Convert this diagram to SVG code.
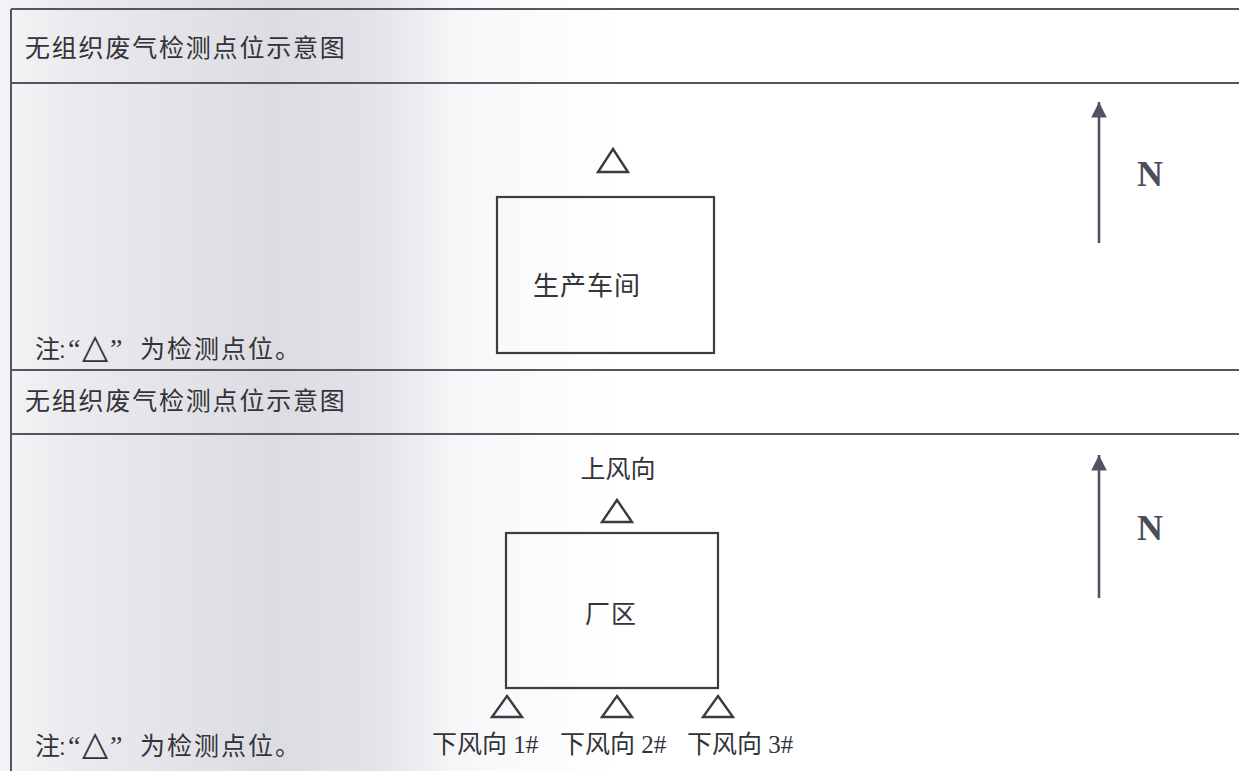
<svg xmlns="http://www.w3.org/2000/svg" width="1239" height="771" viewBox="0 0 1239 771">
  <defs>
    <linearGradient id="scan" x1="0" y1="0" x2="1239" y2="0" gradientUnits="userSpaceOnUse">
      <stop offset="0" stop-color="#f4f4f6"/>
      <stop offset="0.08" stop-color="#e8e8ed"/>
      <stop offset="0.22" stop-color="#dcdce3"/>
      <stop offset="0.3" stop-color="#e2e2e8"/>
      <stop offset="0.37" stop-color="#f7f7f9"/>
      <stop offset="0.5" stop-color="#ffffff"/>
      <stop offset="1" stop-color="#ffffff"/>
    </linearGradient>
    <marker id="head" viewBox="0 0 10 10" refX="10" refY="5" markerWidth="6" markerHeight="6" markerUnits="strokeWidth" orient="auto">
      <path d="M0,0 L10,5 L0,10 Z" fill="#4f5362"/>
    </marker>
    <style>
      .frame { stroke: #55555f; stroke-width: 2; fill: none; }
      .box { stroke: #3c3c44; stroke-width: 2.2; fill: none; }
      .tri { stroke: #3a3a42; stroke-width: 2.4; fill: none; stroke-linejoin: miter; }
      .north { stroke: #4f5362; stroke-width: 2.6; fill: none; }
      .title { font-family: "Noto Sans CJK SC", sans-serif; font-size: 25px; letter-spacing: 1.8px; fill: #333338; }
      .lbl { font-family: "Liberation Serif", "Noto Sans CJK SC", serif; font-size: 25px; fill: #333338; }
      .note { font-family: "Noto Sans CJK SC", sans-serif; font-size: 25px; fill: #333338; }
      .c { font-family: "Liberation Sans", sans-serif; font-size: 24px; }
      .q { font-family: "Liberation Serif", serif; font-size: 28px; }
      .sym { font-family: "DejaVu Sans", sans-serif; font-size: 34px; }
      .n { font-family: "Liberation Serif", serif; font-weight: bold; font-size: 36px; fill: #4a4d5a; }
    </style>
  </defs>

  <rect x="0" y="0" width="1239" height="771" fill="url(#scan)"/>

  <g id="frame">
    <line class="frame" x1="11" y1="9" x2="11" y2="771"/>
    <line class="frame" x1="11" y1="9" x2="1239" y2="9"/>
    <line class="frame" x1="11" y1="83" x2="1239" y2="83"/>
    <line class="frame" x1="11" y1="370" x2="1239" y2="370"/>
    <line class="frame" x1="11" y1="434" x2="1239" y2="434"/>
  </g>

  <g id="title1"><text class="title" x="25" y="57">无组织废气检测点位示意图</text></g>
  <g id="title2"><text class="title" x="25" y="410">无组织废气检测点位示意图</text></g>

  <g id="workshop">
    <rect class="box" x="497" y="197" width="217" height="156"/>
    <text class="lbl" x="587" y="295" text-anchor="middle" style="font-size:26px;letter-spacing:1px">生产车间</text>
  </g>
  <g id="point-workshop">
    <path class="tri" d="M613,149 L628,172 L598,172 Z"/>
  </g>

  <g id="note1">
    <text class="note" y="358"><tspan x="35">注</tspan><tspan class="c" x="59">:</tspan><tspan class="q" x="68">“</tspan><tspan class="sym" x="82">△</tspan><tspan class="q" x="110">”</tspan><tspan x="140" letter-spacing="2">为检测点位。</tspan></text>
  </g>

  <g id="north1">
    <line class="north" x1="1099" y1="243" x2="1099" y2="102" marker-end="url(#head)"/>
    <text class="n" x="1137" y="186">N</text>
  </g>

  <g id="plant">
    <rect class="box" x="506" y="533" width="212" height="155"/>
    <text class="lbl" x="611" y="623" text-anchor="middle" style="letter-spacing:1px">厂区</text>
  </g>

  <g id="upwind">
    <text class="lbl" x="618" y="478" text-anchor="middle">上风向</text>
    <path class="tri" d="M617,500 L632,522 L602,522 Z"/>
  </g>

  <g id="downwind1">
    <path class="tri" d="M507,696 L522,717 L492,717 Z"/>
    <text class="lbl" x="432" y="753">下风向 1#</text>
  </g>
  <g id="downwind2">
    <path class="tri" d="M617,696 L632,717 L602,717 Z"/>
    <text class="lbl" x="560" y="753">下风向 2#</text>
  </g>
  <g id="downwind3">
    <path class="tri" d="M718,696 L733,717 L703,717 Z"/>
    <text class="lbl" x="687" y="753">下风向 3#</text>
  </g>

  <g id="note2">
    <text class="note" y="755"><tspan x="35">注</tspan><tspan class="c" x="59">:</tspan><tspan class="q" x="68">“</tspan><tspan class="sym" x="82">△</tspan><tspan class="q" x="110">”</tspan><tspan x="140" letter-spacing="2">为检测点位。</tspan></text>
  </g>

  <g id="north2">
    <line class="north" x1="1099" y1="598" x2="1099" y2="455" marker-end="url(#head)"/>
    <text class="n" x="1137" y="540">N</text>
  </g>

  <g id="connectors"></g>
</svg>
